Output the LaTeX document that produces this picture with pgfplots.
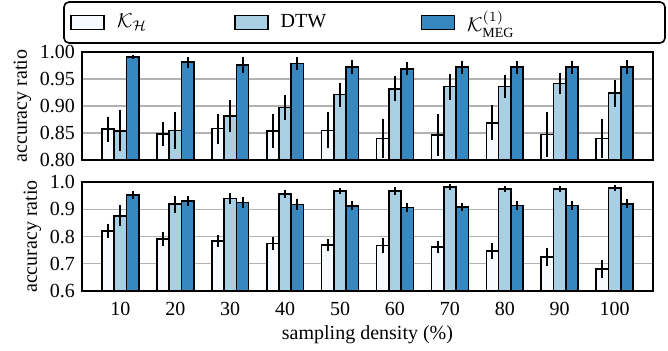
\documentclass[border=0pt]{standalone}
\usepackage{fontspec}
\setmainfont{Liberation Serif}
\usepackage{pgfplots}
\pgfplotsset{compat=1.18}
\definecolor{cW}{HTML}{F7FBFF}
\definecolor{cL}{HTML}{A9CFE5}
\definecolor{cD}{HTML}{3787C0}
\pgfplotsset{
  eb/.style={draw=black, line width=0.8pt,
      error bars/.cd, y dir=both, y explicit, error mark=none,
      error bar style={line width=1pt, black}},
  panel/.style={
    scale only axis, width=285.5pt,
    xmin=-0.7, xmax=9.7,
    ybar=0pt, bar width=0.224,
    xtick={0,...,9},
    xtick style={draw=none}, ytick style={draw=none},
    ymajorgrids, grid style={draw=black!30, line width=0.6pt},
    axis line style={line width=1pt},
    /pgf/number format/assume math mode=true,
    tick label style={font=\fontsize{10}{12}\selectfont},
    label style={font=\fontsize{10}{12}\selectfont},
    ylabel={accuracy ratio},
    ylabel style={yshift=-2.5pt},
  },
}
\begin{document}
\begin{tikzpicture}
\begin{axis}[panel, name=top, at={(0,0)}, anchor=north west,
  height=54pt, ymin=0.80, ymax=1.00,
  ytick={0.80,0.85,0.90,0.95,1.00},
  yticklabel style={/pgf/number format/fixed, /pgf/number format/fixed zerofill, /pgf/number format/precision=2},
  xticklabels={},
  legend columns=3,
  legend style={at={(-0.021,1.273)}, anchor=west, draw=none, fill=none,
    inner xsep=0pt, inner ysep=0pt, column sep=6pt,
    nodes={inner xsep=0pt}, font=\fontsize{10}{12}\selectfont},
  legend image code/.code={\draw[#1, line width=0.8pt] (0pt,-3.5pt) rectangle (16.5pt,3.5pt);},
]
\addplot[fill=cW, eb] coordinates {
(0,0.857) +- (0,0.023) (1,0.848) +- (0,0.022) (2,0.858) +- (0,0.028) (3,0.854) +- (0,0.031) (4,0.855) +- (0,0.033)
(5,0.840) +- (0,0.036) (6,0.846) +- (0,0.039) (7,0.869) +- (0,0.032) (8,0.847) +- (0,0.041) (9,0.840) +- (0,0.036)};
\addplot[fill=cL, eb] coordinates {
(0,0.854) +- (0,0.038) (1,0.855) +- (0,0.034) (2,0.881) +- (0,0.030) (3,0.897) +- (0,0.023) (4,0.921) +- (0,0.022)
(5,0.932) +- (0,0.023) (6,0.936) +- (0,0.024) (7,0.936) +- (0,0.021) (8,0.942) +- (0,0.019) (9,0.924) +- (0,0.025)};
\addplot[fill=cD, eb] coordinates {
(0,0.991) +- (0,0.004) (1,0.981) +- (0,0.010) (2,0.976) +- (0,0.015) (3,0.979) +- (0,0.012) (4,0.972) +- (0,0.013)
(5,0.969) +- (0,0.012) (6,0.972) +- (0,0.012) (7,0.972) +- (0,0.012) (8,0.972) +- (0,0.012) (9,0.972) +- (0,0.013)};
\legend{\makebox[52.5pt][l]{$\mathcal{K}_{\mathcal{H}}$}, \makebox[64pt][l]{DTW}, $\mathcal{K}^{(1)}_{\mathrm{MEG}}$}
\end{axis}
\draw[rounded corners=2.5pt, line width=0.8pt] (-9pt,4.5pt) rectangle (291.5pt,25pt);
\begin{axis}[panel, name=bot, at={(0,-65pt)}, anchor=north west,
  height=54.5pt, ymin=0.6, ymax=1.0,
  ytick={0.6,0.7,0.8,0.9,1.0},
  yticklabel style={/pgf/number format/fixed, /pgf/number format/fixed zerofill, /pgf/number format/precision=1},
  xticklabels={10,20,30,40,50,60,70,80,90,100},
  xticklabel style={yshift=2pt},
  xlabel={sampling density (\%)},
  xlabel style={yshift=2pt},
]
\addplot[fill=cW, eb] coordinates {
(0,0.820) +- (0,0.027) (1,0.791) +- (0,0.027) (2,0.784) +- (0,0.022) (3,0.774) +- (0,0.024) (4,0.769) +- (0,0.021)
(5,0.767) +- (0,0.028) (6,0.762) +- (0,0.023) (7,0.747) +- (0,0.029) (8,0.725) +- (0,0.034) (9,0.680) +- (0,0.034)};
\addplot[fill=cL, eb] coordinates {
(0,0.876) +- (0,0.039) (1,0.919) +- (0,0.031) (2,0.940) +- (0,0.020) (3,0.957) +- (0,0.015) (4,0.966) +- (0,0.011)
(5,0.966) +- (0,0.014) (6,0.982) +- (0,0.010) (7,0.974) +- (0,0.012) (8,0.975) +- (0,0.010) (9,0.978) +- (0,0.010)};
\addplot[fill=cD, eb] coordinates {
(0,0.953) +- (0,0.014) (1,0.931) +- (0,0.018) (2,0.925) +- (0,0.020) (3,0.918) +- (0,0.020) (4,0.913) +- (0,0.016)
(5,0.907) +- (0,0.017) (6,0.908) +- (0,0.015) (7,0.914) +- (0,0.017) (8,0.914) +- (0,0.017) (9,0.920) +- (0,0.016)};
\end{axis}
\path (-41pt,26pt) rectangle (293pt,-148.5pt);
\end{tikzpicture}
\end{document}
